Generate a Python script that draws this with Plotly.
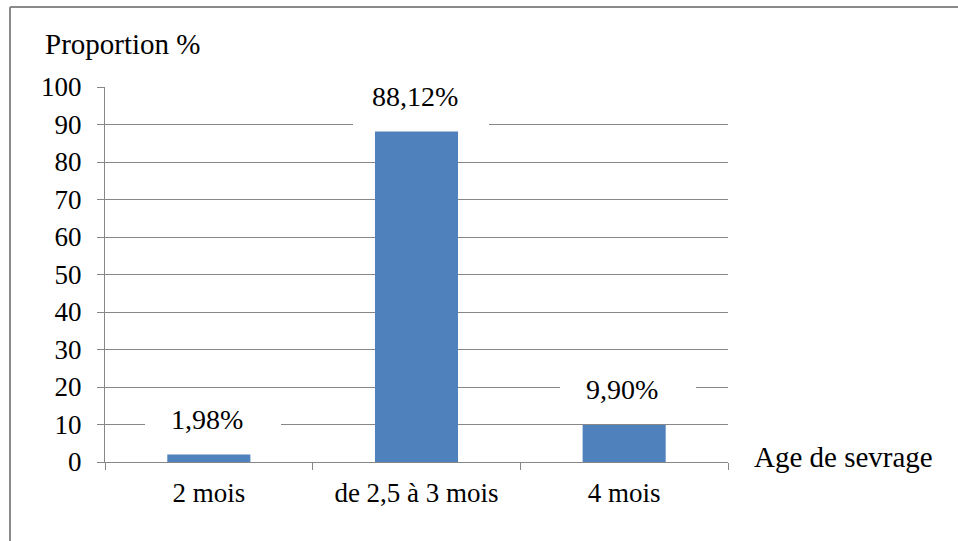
import plotly.graph_objects as go

# Age at weaning distribution
categories = ["2 mois", "de 2,5 à 3 mois", "4 mois"]
proportions = [1.98, 88.12, 9.90]
value_labels = ["1,98%", "88,12%", "9,90%"]
y_ticks = list(range(0, 101, 10))

W, H = 958, 541
ML, MR, MT, MB = 105, 230, 87, 79
PW, PH = W - ML - MR, H - MT - MB

FONT = "Liberation Serif"
GRID = "#878787"
BAR = "#4F81BD"

fig = go.Figure(
    go.Bar(
        x=categories,
        y=proportions,
        marker=dict(color=BAR, line=dict(width=0)),
        width=0.4,
        hoverinfo="skip",
    )
)

# Value labels: a white box above each bar masks the gridlines,
# the percentage text is drawn on top of it
for cat, val, txt in zip(categories, proportions, value_labels):
    fig.add_annotation(
        x=cat, y=val, xref="x", yref="y",
        text="&nbsp;", showarrow=False,
        xanchor="center", yanchor="bottom",
        yshift=4, xshift=4,
        width=136, height=60,
        bgcolor="white", borderpad=0, borderwidth=0,
    )
    fig.add_annotation(
        x=cat, y=val, xref="x", yref="y",
        text=txt, showarrow=False,
        xanchor="center", yanchor="middle",
        yshift=35, xshift=-2,
        font=dict(family=FONT, size=28, color="black"),
    )

# Axis titles
fig.add_annotation(
    x=(43 - ML) / PW, y=1 + (MT - 44) / PH, xref="paper", yref="paper",
    text="Proportion %", showarrow=False, xanchor="left", yanchor="middle",
    font=dict(family=FONT, size=29, color="black"),
)
fig.add_annotation(
    x=(752 - ML) / PW, y=(462 - 457) / PH, xref="paper", yref="paper",
    text="Age de sevrage", showarrow=False, xanchor="left", yanchor="middle",
    font=dict(family=FONT, size=29, color="black"),
)

# Outer chart-area frame (left and top edges)
fig.add_shape(type="line", xref="paper", yref="paper",
              x0=(10 - ML) / PW, x1=(10 - ML) / PW,
              y0=1 + (MT - 7) / PH, y1=-(MB + 5) / PH,
              line=dict(color="#8a8a8a", width=2))
fig.add_shape(type="line", xref="paper", yref="paper",
              x0=(10 - ML) / PW, x1=(W + 5 - ML) / PW,
              y0=1 + (MT - 7) / PH, y1=1 + (MT - 7) / PH,
              line=dict(color="#8a8a8a", width=2))

fig.update_layout(
    width=W, height=H,
    margin=dict(l=ML, r=MR, t=MT, b=MB, pad=0),
    paper_bgcolor="white", plot_bgcolor="white",
    showlegend=False,
    font=dict(family=FONT, size=27, color="black"),
    bargap=0.6,
)
fig.update_xaxes(
    type="category",
    showline=True, linecolor=GRID, linewidth=1.3,
    ticks="outside", tickson="boundaries", ticklen=7, tickcolor=GRID, tickwidth=1.3,
    showgrid=False, zeroline=False,
    tickfont=dict(family=FONT, size=27, color="black"),
    ticklabelstandoff=6,
)
fig.update_yaxes(
    range=[0, 100], tickvals=y_ticks, ticktext=[str(v) for v in y_ticks],
    showline=True, linecolor=GRID, linewidth=1.3,
    ticks="outside", ticklen=7, tickcolor=GRID, tickwidth=1.3,
    showgrid=True, gridcolor=GRID, gridwidth=1.3,
    zeroline=False,
    tickfont=dict(family=FONT, size=27, color="black"),
    ticklabelstandoff=10,
)

fig.write_html("out.html")
